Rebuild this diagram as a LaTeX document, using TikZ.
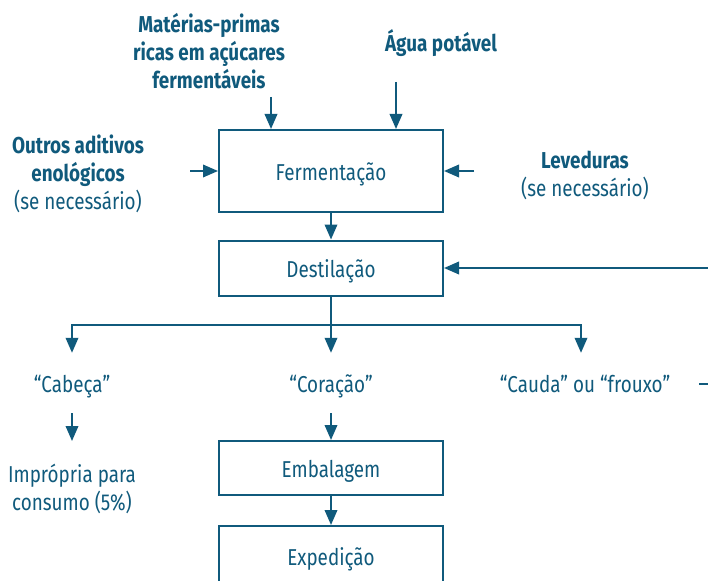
\documentclass[tikz,border=0pt]{standalone}
\usepackage{fontspec}
\setmainfont{Fira Sans}[FakeStretch=0.82]
\usetikzlibrary{arrows.meta,positioning,calc}
\definecolor{flowblue}{HTML}{105A7C}

\begin{document}
\begin{tikzpicture}[x=1pt,y=-1pt,
  every node/.style={text=flowblue,font=\fontsize{23}{28}\selectfont},
  box/.style={draw=flowblue,line width=2pt,minimum width=224pt,inner sep=0pt,text height=20pt,text depth=2pt},
  lbl/.style={align=center,inner sep=0pt},
  hd/.style={font=\fontsize{23}{28}\selectfont\bfseries},
  br/.style={inner sep=0pt,minimum height=60pt,text height=20pt,text depth=2pt},
  line/.style={draw=flowblue,line width=2pt},
  arr/.style={line,-{Triangle[length=15pt,width=12.5pt]}}]
  \useasboundingbox (0,0) rectangle (708,580);
  \node[box,minimum height=82pt] (ferm) at (331,171) {Fermentação};
  \node[box,minimum height=55pt] (dest) at (331,268) {Destilação};
  \node[box,minimum height=54pt] (emb) at (331,468) {Embalagem};
  \node[box,minimum height=60pt] (exped) at (331,556) {Expedição};
  \node[lbl,hd] (mat) at (209,51) {Matérias-primas\\ricas em açúcares\\fermentáveis};
  \node[lbl,hd] (agua) at (441,43) {Água potável};
  \node[lbl] (outros) at (78,174) {\bfseries Outros aditivos\\\bfseries enológicos\\(se necessário)};
  \node[lbl] (lev) at (585,175) {\bfseries Leveduras\\(se necessário)};
  \node[br] (cabeca) at (72,383) {“Cabeça”};
  \node[br] (corac) at (331,383) {“Coração”};
  \node[br] (cauda) at (585,383) {“Cauda” ou “frouxo”};
  \node[lbl,anchor=north,inner ysep=23pt] (impr) at (72,441) {Imprópria para\\consumo (5\%)};
  \coordinate (mat-in) at (271,97);
  \coordinate (agua-in) at (396,82);
  \coordinate (outros-in) at (190,171);
  \coordinate (lev-in) at (474,171);
  \coordinate (reflux) at (708,268);
  \coordinate (split) at (331,325);
  \coordinate (rest-out) at (699,384);
  \draw[arr] (mat-in) -- (mat-in |- ferm.north);
  \draw[arr] (agua-in) -- (agua-in |- ferm.north);
  \draw[arr] (outros-in) -- (ferm.west);
  \draw[arr] (lev-in) -- (ferm.east);
  \draw[arr] (ferm) -- (dest);
  \draw[arr] (reflux) -- (dest.east);
  \draw[line] (dest) -- (split);
  \draw[arr] (split) -| (cabeca.north);
  \draw[arr] (split) -- (corac.north);
  \draw[arr] (split) -| ([xshift=-4pt]cauda.north);
  \draw[arr] (cabeca.south) -- (impr.north);
  \draw[arr] (corac.south) -- (emb.north);
  \draw[arr] (emb) -- (exped);
  \draw[line] (rest-out) -- (rest-out -| reflux);
\end{tikzpicture}
\end{document}
